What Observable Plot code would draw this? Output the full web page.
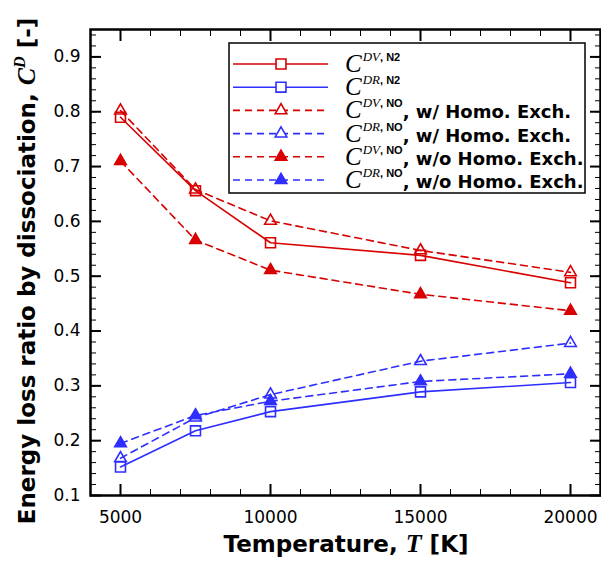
<!DOCTYPE html>
<html><head><meta charset="utf-8">
<script src="https://cdn.jsdelivr.net/npm/d3@7"></script>
<script src="https://cdn.jsdelivr.net/npm/@observablehq/plot@0.6"></script>
<style>body{margin:0;background:#fff}</style>
</head><body><div id="chart"></div>
<script>
// ---- data ----
const temperatures = [5000, 7500, 10000, 15000, 20000];
const dvN2   = [0.790, 0.656, 0.561, 0.538, 0.488];
const drN2   = [0.152, 0.218, 0.253, 0.289, 0.306];
const dvNOw  = [0.802, 0.658, 0.601, 0.547, 0.507];
const drNOw  = [0.168, 0.242, 0.284, 0.345, 0.378];
const dvNOwo = [0.710, 0.566, 0.511, 0.467, 0.437];
const drNOwo = [0.195, 0.246, 0.272, 0.308, 0.322];
const xMajorTicks = [5000, 10000, 15000, 20000];
const yMajorTicks = [0.1, 0.2, 0.3, 0.4, 0.5, 0.6, 0.7, 0.8, 0.9];
const xMinorTicks = d3.range(4000, 21001, 1000);
const yMinorTicks = d3.range(10, 95, 2).map(d => d / 100);
const legendSup = ["DV", "DR", "DV", "DR", "DV", "DR"];
const legendSpecies = ["N2", "N2", "NO", "NO", "NO", "NO"];
const legendSuffix = ["", "", ", w/ Homo. Exch.", ", w/ Homo. Exch.", ", w/o Homo. Exch.", ", w/o Homo. Exch."];
const xTitle = ["Temperature, ", "T", " [K]"];
const yTitle = ["Energy loss ratio by dissociation, ", "C", "D", " [-]"];

// ---- styles ----
const RED = "#d80000", BLUE = "#2e2eff";
const series = [
  {values: dvN2,   color: RED,  dash: null,  symbol: "square",   filled: false},
  {values: drN2,   color: BLUE, dash: null,  symbol: "square",   filled: false},
  {values: dvNOw,  color: RED,  dash: "7,5", symbol: "triangle", filled: false},
  {values: drNOw,  color: BLUE, dash: "7,5", symbol: "triangle", filled: false},
  {values: dvNOwo, color: RED,  dash: "7,5", symbol: "triangle", filled: true},
  {values: drNOwo, color: BLUE, dash: "7,5", symbol: "triangle", filled: true}
];
const rOf = s => s.symbol === "square" ? 5.6 : 4.3;

const marks = [];
series.forEach(s => {
  const d = temperatures.map((t, i) => ({T: t, v: s.values[i]}));
  marks.push(Plot.line(d, {x: "T", y: "v", stroke: s.color, strokeWidth: 1.6, strokeDasharray: s.dash}));
});
series.forEach(s => {
  const d = temperatures.map((t, i) => ({T: t, v: s.values[i]}));
  marks.push(Plot.dot(d, {x: "T", y: "v", symbol: s.symbol, r: rOf(s), stroke: s.color, strokeWidth: 1.6, fill: s.filled ? s.color : "none"}));
});

const plot = Plot.plot({
  width: 601, height: 561,
  marginLeft: 90, marginRight: 1, marginTop: 29, marginBottom: 66,
  style: {fontFamily: "'DejaVu Sans', sans-serif", fontSize: "17px", background: "white", color: "black"},
  x: {domain: [4000, 21000], label: null},
  y: {domain: [0.1, 0.95], label: null},
  marks: [
    ...marks,
    Plot.axisX(xMinorTicks, {anchor: "bottom", tickSize: -6, fill: "none", label: null}),
    Plot.axisX(xMinorTicks, {anchor: "top", tickSize: -6, fill: "none", label: null}),
    Plot.axisX(xMajorTicks, {anchor: "bottom", tickSize: -11, strokeWidth: 2, fill: "none", label: null}),
    Plot.axisX(xMajorTicks, {anchor: "top", tickSize: -11, strokeWidth: 2, fill: "none", label: null}),
    Plot.axisY(yMinorTicks, {anchor: "left", tickSize: -6, fill: "none", label: null}),
    Plot.axisY(yMinorTicks, {anchor: "right", tickSize: -6, fill: "none", label: null}),
    Plot.axisY(yMajorTicks, {anchor: "left", tickSize: -11, strokeWidth: 2, fill: "none", label: null}),
    Plot.axisY(yMajorTicks, {anchor: "right", tickSize: -11, strokeWidth: 2, fill: "none", label: null}),
    Plot.axisX(xMajorTicks, {anchor: "bottom", tickSize: 0, tickPadding: 15, tickFormat: d => String(d), label: null, fontSize: 17}),
    Plot.axisY(yMajorTicks, {anchor: "left", tickSize: 0, tickPadding: 10, tickFormat: d => d.toFixed(1), label: null, fontSize: 17}),
    Plot.frame({stroke: "black", strokeWidth: 2.5})
  ]
});
document.getElementById("chart").appendChild(plot);

// ---- titles and legend ----
const svg = d3.select(plot);
const serif = "'Liberation Serif', 'Times New Roman', serif";
const sans = "'DejaVu Sans', sans-serif";

const xt = svg.append("text").attr("x", 346).attr("y", 552).attr("text-anchor", "middle")
  .attr("font-family", sans).attr("font-weight", "bold").attr("font-size", 23).attr("fill", "black");
xt.append("tspan").text(xTitle[0]);
xt.append("tspan").attr("font-family", serif).attr("font-style", "italic").attr("font-size", 26).text(xTitle[1]);
xt.append("tspan").text(xTitle[2]);

const yt = svg.append("text").attr("transform", "translate(35,271) rotate(-90)").attr("text-anchor", "middle")
  .attr("font-family", sans).attr("font-weight", "bold").attr("font-size", 23).attr("fill", "black");
yt.append("tspan").text(yTitle[0]);
yt.append("tspan").attr("font-family", serif).attr("font-style", "italic").attr("font-size", 26).text(yTitle[1]);
yt.append("tspan").attr("font-family", serif).attr("font-style", "italic").attr("font-size", 16).attr("dy", -10).text(yTitle[2]);
yt.append("tspan").attr("dy", 10).text(yTitle[3]);

const lg = svg.append("g").attr("text-anchor", "start");
lg.append("rect").attr("x", 229).attr("y", 43).attr("width", 356).attr("height", 150)
  .attr("fill", "white").attr("stroke", "black").attr("stroke-width", 1.5);
series.forEach((s, i) => {
  const cy = 64 + i * 23.2;
  lg.append("line").attr("x1", 233).attr("x2", 328).attr("y1", cy).attr("y2", cy)
    .attr("stroke", s.color).attr("stroke-width", 1.6).attr("stroke-dasharray", s.dash);
  const r = rOf(s);
  const sym = d3.symbol(s.symbol === "square" ? d3.symbolSquare : d3.symbolTriangle, Math.PI * r * r);
  lg.append("path").attr("d", sym()).attr("transform", `translate(281,${cy})`)
    .attr("fill", s.filled ? s.color : "white").attr("stroke", s.color).attr("stroke-width", 1.6);
  const t = lg.append("text").attr("x", 345).attr("y", cy + 8).attr("fill", "black").attr("text-anchor", "start");
  t.append("tspan").attr("font-family", serif).attr("font-style", "italic").attr("font-size", 25).text("C");
  t.append("tspan").attr("font-family", serif).attr("font-style", "italic").attr("font-size", 13).attr("dy", -11).attr("dx", 1).text(legendSup[i]);
  t.append("tspan").attr("font-family", "'Liberation Sans', Arial, sans-serif").attr("font-weight", "bold").attr("font-size", 11).text(", " + legendSpecies[i]);
  if (legendSuffix[i]) t.append("tspan").attr("dy", 11).attr("font-family", sans).attr("font-weight", "bold").attr("font-size", 18).text(legendSuffix[i]);
});
</script>
</body></html>
